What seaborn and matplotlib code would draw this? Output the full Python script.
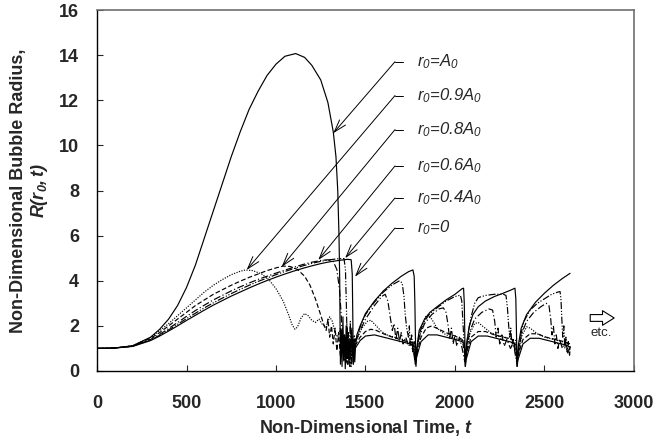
import matplotlib
matplotlib.use("Agg")
import matplotlib.pyplot as plt
import seaborn as sns

# Bubble radius histories (t, R)
t_a0 = [0, 100, 200, 300, 350, 400, 450, 500, 550, 600, 650, 700, 750, 800, 850, 900, 950, 1000, 1050, 1110,
        1160, 1200, 1250, 1290, 1320, 1335, 1345, 1352, 1356, 1358, 1360,
        1365, 1369, 1374, 1378, 1383, 1387, 1392, 1397, 1402, 1407, 1412, 1418, 1424, 1430, 1436,
        1442, 1470, 1500, 1550, 1600, 1650, 1700, 1750, 1770, 1778,
        1785, 1810, 1850, 1900, 1950, 2000, 2040, 2052, 2058,
        2062, 2090, 2130, 2180, 2230, 2280, 2330, 2342, 2347,
        2352, 2380, 2420, 2470, 2520, 2570, 2620, 2645]
r_a0 = [1.0, 1.02, 1.12, 1.5, 1.85, 2.3, 2.9, 3.7, 4.7, 5.9, 7.1, 8.3, 9.5, 10.6, 11.6, 12.4, 13.1, 13.6, 13.95, 14.07,
        13.9, 13.55, 12.9, 11.9, 10.6, 9.5, 8.0, 6.0, 4.0, 2.0, 0.3,
        1.8, 0.2, 2.4, 0.5, 1.6, 0.1, 2.0, 0.6, 1.7, 0.3, 1.4, 0.8, 1.9, 0.4, 1.2,
        1.0, 1.35, 1.55, 1.6, 1.5, 1.4, 1.3, 1.2, 1.1, 0.3,
        0.6, 1.3, 1.6, 1.6, 1.5, 1.4, 1.3, 1.2, 0.2,
        0.5, 1.3, 1.55, 1.55, 1.45, 1.35, 1.25, 1.15, 0.2,
        0.5, 1.2, 1.45, 1.45, 1.35, 1.25, 1.15, 1.05]

t_09 = [0, 100, 200, 300, 350, 400, 450, 500, 550, 600, 650, 700, 750, 800, 830, 870, 920, 960, 1000, 1040,
        1070, 1090, 1106, 1120, 1140, 1160, 1180, 1200, 1220, 1240, 1260, 1280, 1300, 1315, 1330, 1345, 1360,
        1370, 1380, 1390, 1400, 1410, 1420, 1432,
        1445, 1480, 1510, 1530, 1560, 1590, 1620, 1660, 1700, 1740, 1770, 1780,
        1785, 1810, 1835, 1851, 1870, 1900, 1940, 1980, 2020, 2050, 2058,
        2062, 2085, 2110, 2130, 2160, 2200, 2250, 2300, 2340, 2347,
        2352, 2375, 2401, 2420, 2460, 2500, 2550, 2600, 2640]
r_09 = [1.0, 1.02, 1.12, 1.5, 1.78, 2.1, 2.45, 2.8, 3.15, 3.5, 3.8, 4.05, 4.27, 4.42, 4.48, 4.45, 4.3, 4.05, 3.65, 3.1,
        2.5, 2.05, 1.85, 1.95, 2.35, 2.55, 2.45, 2.25, 2.15, 2.3, 2.05, 1.95, 2.4, 2.2, 1.7, 1.5, 1.9,
        0.8, 1.6, 0.5, 1.4, 0.9, 1.7, 1.1,
        1.3, 1.9, 2.2, 2.25, 2.0, 1.75, 1.6, 1.5, 1.4, 1.3, 1.2, 0.5,
        0.8, 1.8, 2.4, 2.48, 2.3, 1.9, 1.65, 1.5, 1.4, 1.3, 0.5,
        0.8, 1.7, 2.1, 2.15, 1.95, 1.7, 1.55, 1.45, 1.35, 0.5,
        0.8, 1.6, 1.96, 1.9, 1.65, 1.5, 1.4, 1.3, 1.2]

t_08 = [0, 100, 200, 300, 350, 400, 450, 500, 550, 600, 650, 700, 750, 800, 850, 900, 950, 1000, 1040, 1080,
        1120, 1160, 1190, 1220, 1245, 1265, 1280, 1290, 1300, 1310, 1320, 1330, 1340, 1350, 1360, 1375, 1390,
        1405, 1420, 1440,
        1470, 1500, 1530, 1560, 1600, 1650, 1700, 1750, 1778,
        1785, 1810, 1840, 1870, 1910, 1950, 2000, 2040, 2058,
        2062, 2090, 2130, 2170, 2220, 2270, 2320, 2347,
        2352, 2380, 2420, 2460, 2510, 2560, 2610, 2645]
r_08 = [1.0, 1.02, 1.11, 1.45, 1.7, 2.0, 2.3, 2.6, 2.9, 3.15, 3.4, 3.6, 3.8, 3.98, 4.15, 4.3, 4.45, 4.57, 4.65, 4.63,
        4.5, 4.2, 3.8, 3.2, 2.6, 2.1, 1.8, 2.3, 1.5, 2.0, 1.2, 1.9, 0.9, 1.7, 0.6, 1.5, 0.4,
        1.3, 0.8, 1.1,
        1.5, 1.75, 1.85, 1.8, 1.65, 1.5, 1.38, 1.25, 0.6,
        0.7, 1.5, 1.9, 2.0, 1.85, 1.7, 1.55, 1.4, 0.6,
        0.7, 1.5, 1.75, 1.75, 1.6, 1.5, 1.4, 0.6,
        0.7, 1.4, 1.65, 1.65, 1.5, 1.4, 1.3, 1.2]

t_06 = [0, 100, 200, 300, 350, 400, 450, 500, 550, 600, 650, 700, 750, 800, 850, 900, 950, 1000, 1050, 1100,
        1150, 1200, 1250, 1290, 1320, 1340, 1355, 1365, 1372, 1380, 1386, 1391, 1396, 1401, 1407, 1413, 1419,
        1425, 1432, 1440,
        1470, 1500, 1550, 1590, 1610, 1625, 1640, 1650, 1660, 1670, 1680, 1690, 1700, 1710, 1725, 1740, 1760,
        1775, 1782,
        1800, 1830, 1870, 1910, 1935, 1950, 1962, 1970, 1980, 1990, 2000, 2010, 2025, 2040, 2055,
        2062, 2080, 2110, 2150, 2190, 2210, 2222, 2230, 2240, 2250, 2262, 2275, 2290, 2310, 2330, 2347,
        2352, 2370, 2400, 2440, 2480, 2510, 2525, 2535, 2542, 2550, 2558, 2566, 2575, 2585, 2600, 2615, 2630, 2645]
r_06 = [1.0, 1.02, 1.1, 1.4, 1.62, 1.88, 2.15, 2.42, 2.68, 2.92, 3.15, 3.35, 3.55, 3.73, 3.9, 4.06, 4.2, 4.34, 4.47, 4.6,
        4.72, 4.82, 4.9, 4.93, 4.85, 4.5, 3.6, 2.4, 1.2, 0.4, 1.5, 0.3, 2.1, 0.6, 1.3, 0.2, 1.8,
        0.7, 1.4, 1.2,
        1.8, 2.3, 2.9, 3.3, 3.4, 3.1, 2.3, 1.8, 2.1, 1.4, 1.9, 1.3, 1.7, 1.2, 1.5, 1.1, 1.3,
        0.5, 0.9,
        1.5, 2.1, 2.5, 2.75, 2.8, 2.6, 2.0, 1.4, 1.9, 1.2, 1.6, 1.1, 1.5, 1.0, 0.4,
        0.6, 1.7, 2.3, 2.6, 2.75, 2.7, 2.2, 1.5, 1.9, 1.2, 1.6, 1.1, 1.4, 1.0, 1.3, 0.4,
        0.6, 1.6, 2.2, 2.6, 2.85, 3.0, 2.9, 2.3, 1.6, 2.0, 1.2, 1.6, 1.0, 1.4, 1.0, 1.3, 0.8, 1.1]

t_04 = [0, 100, 200, 300, 350, 400, 450, 500, 550, 600, 650, 700, 750, 800, 850, 900, 950, 1000, 1050, 1100,
        1150, 1200, 1250, 1300, 1350, 1380, 1388, 1393, 1397, 1400, 1405, 1410, 1415, 1420, 1426, 1432, 1437, 1442,
        1470, 1500, 1550, 1600, 1650, 1690, 1705, 1715, 1722, 1730, 1740, 1745, 1750, 1758, 1765, 1772, 1780,
        1795, 1820, 1860, 1900, 1950, 2000, 2030, 2038, 2044, 2050, 2055, 2058,
        2070, 2090, 2110, 2130, 2170, 2220, 2270, 2285, 2293, 2300, 2306, 2312, 2318, 2325, 2335, 2347,
        2362, 2385, 2420, 2460, 2500, 2540, 2575, 2587, 2592, 2597, 2602, 2608, 2614, 2620, 2627, 2633, 2640, 2645]
r_04 = [1.0, 1.02, 1.1, 1.38, 1.58, 1.82, 2.07, 2.32, 2.56, 2.8, 3.02, 3.23, 3.43, 3.62, 3.8, 3.97, 4.12, 4.27, 4.41, 4.54,
        4.66, 4.77, 4.86, 4.93, 4.98, 4.98, 4.5, 3.0, 1.5, 0.3, 1.7, 0.5, 2.2, 0.2, 1.5, 0.6, 1.6, 1.3,
        1.95, 2.5, 3.05, 3.5, 3.82, 4.0, 3.9, 3.3, 2.5, 1.9, 1.5, 2.0, 1.1, 1.6, 0.8, 1.3, 0.3,
        1.5, 2.1, 2.55, 2.8, 3.1, 3.3, 3.36, 3.1, 2.2, 1.4, 0.9, 0.3,
        1.5, 2.4, 3.0, 3.25, 3.35, 3.4, 3.4, 3.35, 2.8, 2.0, 1.5, 1.9, 1.1, 1.4, 0.8, 0.3,
        1.4, 2.2, 2.7, 3.0, 3.2, 3.4, 3.5, 3.52, 3.2, 2.3, 1.5, 2.0, 1.0, 1.5, 0.8, 1.3, 0.7, 1.1]

t_00 = [0, 100, 200, 300, 350, 400, 450, 500, 550, 600, 650, 700, 750, 800, 850, 900, 950, 1000, 1050, 1100,
        1150, 1200, 1250, 1300, 1350, 1400, 1420, 1426, 1429, 1432, 1436, 1440, 1445, 1452,
        1470, 1500, 1550, 1600, 1650, 1700, 1740, 1765, 1772, 1776, 1779, 1782,
        1790, 1800, 1830, 1860, 1900, 1950, 2000, 2040, 2048, 2052, 2055, 2058,
        2065, 2080, 2100, 2130, 2170, 2220, 2270, 2310, 2335, 2340, 2344, 2347,
        2355, 2370, 2400, 2450, 2500, 2550, 2600, 2643]
r_00 = [1.0, 1.02, 1.09, 1.35, 1.55, 1.77, 2.0, 2.24, 2.47, 2.7, 2.92, 3.12, 3.32, 3.5, 3.68, 3.85, 4.01, 4.16, 4.3, 4.43,
        4.55, 4.66, 4.76, 4.84, 4.9, 4.95, 4.93, 4.3, 2.5, 0.3, 1.4, 0.4, 1.2, 1.6,
        2.0, 2.55, 3.1, 3.55, 3.9, 4.2, 4.4, 4.48, 4.2, 3.0, 1.5, 0.2,
        1.2, 1.8, 2.3, 2.6, 2.85, 3.15, 3.4, 3.65, 3.67, 3.0, 1.5, 0.2,
        1.2, 2.0, 2.5, 2.85, 3.1, 3.3, 3.45, 3.58, 3.67, 3.2, 1.5, 0.2,
        1.2, 1.9, 2.5, 3.05, 3.45, 3.8, 4.1, 4.33]

labels = [r"r$_0$=A$_0$", r"r$_0$=0.9A$_0$", r"r$_0$=0.8A$_0$",
          r"r$_0$=0.6A$_0$", r"r$_0$=0.4A$_0$", r"r$_0$=0"]
label_r = [13.71, 12.21, 10.70, 9.09, 7.67, 6.34]
tip_t = [1320, 836, 1032, 1236, 1386, 1441]
tip_r = [10.54, 4.48, 4.62, 4.92, 5.0, 4.18]

sns.set_style("ticks")
plt.rcParams["font.family"] = ["Liberation Sans", "DejaVu Sans"]
plt.rcParams["mathtext.fontset"] = "custom"
plt.rcParams["mathtext.rm"] = "Liberation Sans:italic"
plt.rcParams["mathtext.it"] = "Liberation Sans:italic"
plt.rcParams["mathtext.bf"] = "Liberation Sans:italic:bold"

fig = plt.figure(figsize=(6.55, 4.45), dpi=100)
ax = fig.add_axes([0.1481, 0.1663, 0.8198, 0.8112])

curves = [
    (t_a0, r_a0, "-"),
    (t_09, r_09, (0, (1, 1.2))),
    (t_08, r_08, (0, (4, 2))),
    (t_06, r_06, (0, (6, 2, 1, 2))),
    (t_04, r_04, (0, (6, 1.5, 1, 1.5, 1, 1.5))),
    (t_00, r_00, "-"),
]
for t, r, ls in curves:
    sns.lineplot(x=t, y=r, ax=ax, color="k", lw=0.85, linestyle=ls,
                 estimator=None, sort=False)

# annotation leaders
for lab, ly, tx, ty in zip(labels, label_r, tip_t, tip_r):
    ax.plot([1665, 1712], [ly, ly], color="k", lw=0.7)
    ax.annotate("", xy=(tx, ty), xytext=(1665, ly),
                arrowprops=dict(arrowstyle="->,head_length=0.9,head_width=0.28",
                                color="k", lw=0.7, shrinkA=0, shrinkB=0))
    ax.text(1785, ly, lab, fontsize=12, style="italic", ha="left", va="center")

# "etc." hollow arrow
ax.annotate("", xy=(2905, 2.35), xytext=(2740, 2.35),
            arrowprops=dict(arrowstyle="simple,head_length=0.6,head_width=0.75,tail_width=0.35",
                            fc="white", ec="k", lw=0.8, mutation_scale=14))
ax.text(2816, 1.68, "etc.", fontsize=9.5, ha="center", va="center")

ax.set_xlim(0, 3000)
ax.set_ylim(0, 16)
ax.set_xticks(range(0, 3001, 500))
ax.set_yticks(range(0, 17, 2))
ax.tick_params(direction="in", length=4, width=0.8, labelsize=13)
ax.tick_params(axis="x", pad=17)
ax.tick_params(axis="y", pad=13)
for lbl in ax.get_xticklabels() + ax.get_yticklabels():
    lbl.set_fontweight("bold")

for side in ["top", "right"]:
    ax.spines[side].set_color("#707070")
    ax.spines[side].set_linewidth(1.2)
for side in ["left", "bottom"]:
    ax.spines[side].set_color("k")
    ax.spines[side].set_linewidth(1.0)

ax.set_xlabel(r"Non-Dimensional Time, $\mathbf{t}$", fontsize=13, fontweight="bold")
ax.set_ylabel("Non-Dimensional Bubble Radius,\n" + r"$\mathbf{R(r_0,t)}$",
              fontsize=13, fontweight="bold", linespacing=1.1)
ax.xaxis.set_label_coords(0.5, -0.13)
ax.yaxis.set_label_coords(-0.088, 0.5)

fig.savefig("out.png", dpi=100)
